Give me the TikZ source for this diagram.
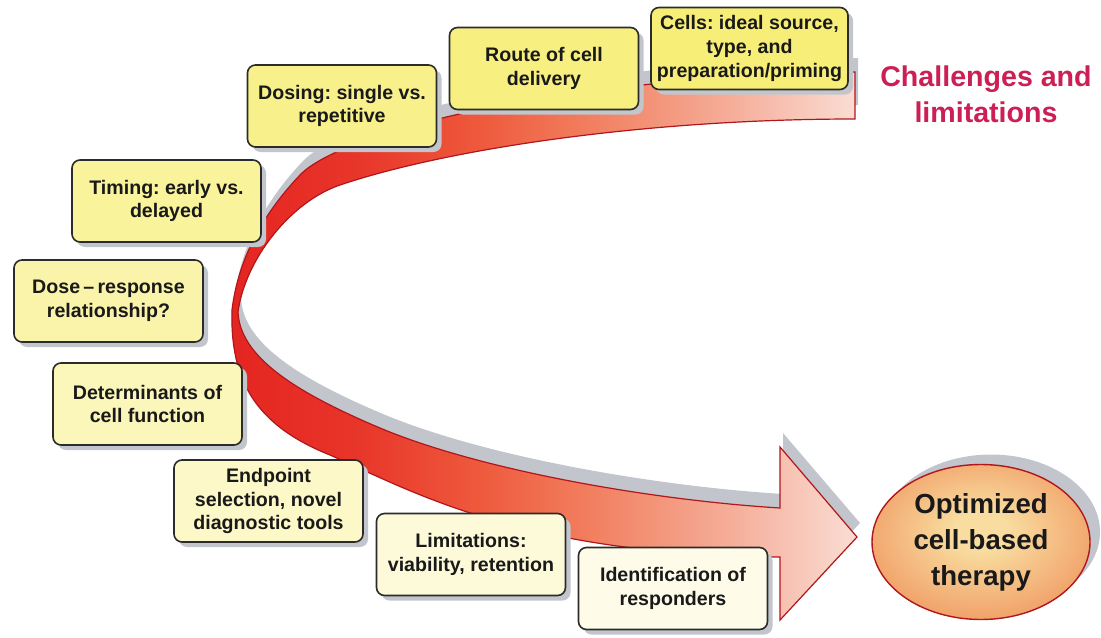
\documentclass[tikz,border=0pt]{standalone}
\usepackage{fontspec}
\setmainfont{Liberation Sans}
\usetikzlibrary{shapes.geometric, shadows}
\frenchspacing

\definecolor{boxhi}{HTML}{F7EE78}
\definecolor{boxlo}{HTML}{FEFDEE}
\definecolor{boxline}{HTML}{2B2B2B}
\definecolor{shadowgray}{HTML}{C2C6CC}
\definecolor{arrred}{HTML}{E42521}
\definecolor{arrredb}{HTML}{E8352A}
\definecolor{arrmid}{HTML}{EE5A3C}
\definecolor{arrsalmon}{HTML}{F28465}
\definecolor{arrpink}{HTML}{F5AE9A}
\definecolor{arrpale}{HTML}{FADDD3}
\definecolor{arrline}{HTML}{B0161C}
\definecolor{goalin}{HTML}{F9DDA0}
\definecolor{goalout}{HTML}{E96E3A}
\definecolor{chalred}{HTML}{CC1F55}

\pgfdeclarehorizontalshading{arrowshade}{100bp}{color(0bp)=(arrred); color(25bp)=(arrred); color(35bp)=(arrredb); color(45bp)=(arrmid); color(55bp)=(arrsalmon); color(65bp)=(arrpink); color(75bp)=(arrpale); color(100bp)=(arrpale)}
\pgfdeclareradialshading{goalshade}{\pgfpoint{0bp}{4bp}}{color(0bp)=(goalin); color(6bp)=(goalin); color(46bp)=(goalout); color(60bp)=(goalout)}

% the big bent arrow, in pixel units
\newcommand{\bigarrowpath}{(855,72) .. controls (550,78) and (340,133) .. (300,175)
	.. controls (262,215) and (238,260) .. (232,310)
	.. controls (230,380) and (255,425) .. (330,455)
	.. controls (410,490) and (520,555) .. (780,557)
	-- (780,620) -- (857,537) -- (780,447) -- (780,508)
	.. controls (650,500) and (480,470) .. (380,428)
	.. controls (290,390) and (240,355) .. (238,312)
	.. controls (245,260) and (290,202) .. (340,185)
	.. controls (450,148) and (650,119) .. (855,119) -- cycle}

\tikzset{
	cbox/.style={draw=boxline, line width=0.8pt, rounded corners=4pt, align=center,
		minimum width=94.5pt, minimum height=41pt, inner sep=1pt, text=black!90,
		font=\bfseries\fontsize{9.8}{11.8}\selectfont,
		drop shadow={shadow xshift=2.5pt, shadow yshift=-2.5pt, fill=shadowgray, opacity=1}},
	goal/.style={ellipse, draw=arrline, line width=0.7pt, shading=goalshade, align=center,
		minimum width=109pt, minimum height=77.5pt, inner sep=0pt, text=black!90,
		font=\bfseries\fontsize{13.8}{18}\selectfont,
		drop shadow={shadow xshift=5pt, shadow yshift=5pt, fill=shadowgray, opacity=1}}
}

\begin{document}
\begin{tikzpicture}[x=0.5pt, y=-0.5pt]
	\useasboundingbox (0,0) rectangle (1101,637);
	
% arrow
	\begin{scope}[shift={(3,-14)}]
		\fill[shadowgray] \bigarrowpath;
	\end{scope}
	\draw[arrline, line width=0.6pt, shading=arrowshade] \bigarrowpath;
	
% boxes along the arrow
	\node[cbox, fill=boxhi, minimum width=98.5pt] (cells) at (749.5,48.5) {Cells: ideal source,\\type, and\\preparation/priming};
	\node[cbox, fill=boxhi!92!boxlo] (route) at (544,68.5) {Route of cell\\delivery};
	\node[cbox, fill=boxhi!84!boxlo] (dosing) at (342,106) {Dosing: single vs.\\repetitive};
	\node[cbox, fill=boxhi!70!boxlo] (timing) at (166.5,201) {Timing: early vs.\\delayed};
	\node[cbox, fill=boxhi!58!boxlo] (doseresp) at (108.5,301) {Dose\,–\,response\\relationship?};
	\node[cbox, fill=boxhi!45!boxlo] (determ) at (147.5,404) {Determinants of\\cell function};
	\node[cbox, fill=boxhi!33!boxlo] (endpt) at (268.5,501) {Endpoint\\selection, novel\\diagnostic tools};
	\node[cbox, fill=boxhi!18!boxlo] (limits) at (471,554.5) {Limitations:\\viability, retention};
	\node[cbox, fill=boxhi!5!boxlo] (ident) at (673,588.5) {Identification of\\responders};
	
% title and goal
	\node[font=\bfseries\fontsize{14.3}{18}\selectfont, text=chalred, align=center] (chal) at (986,94) {Challenges and\\limitations};
	\node[goal] (therapy) at (981,542) {Optimized\\cell-based\\therapy};
	
\end{tikzpicture}
\end{document}
